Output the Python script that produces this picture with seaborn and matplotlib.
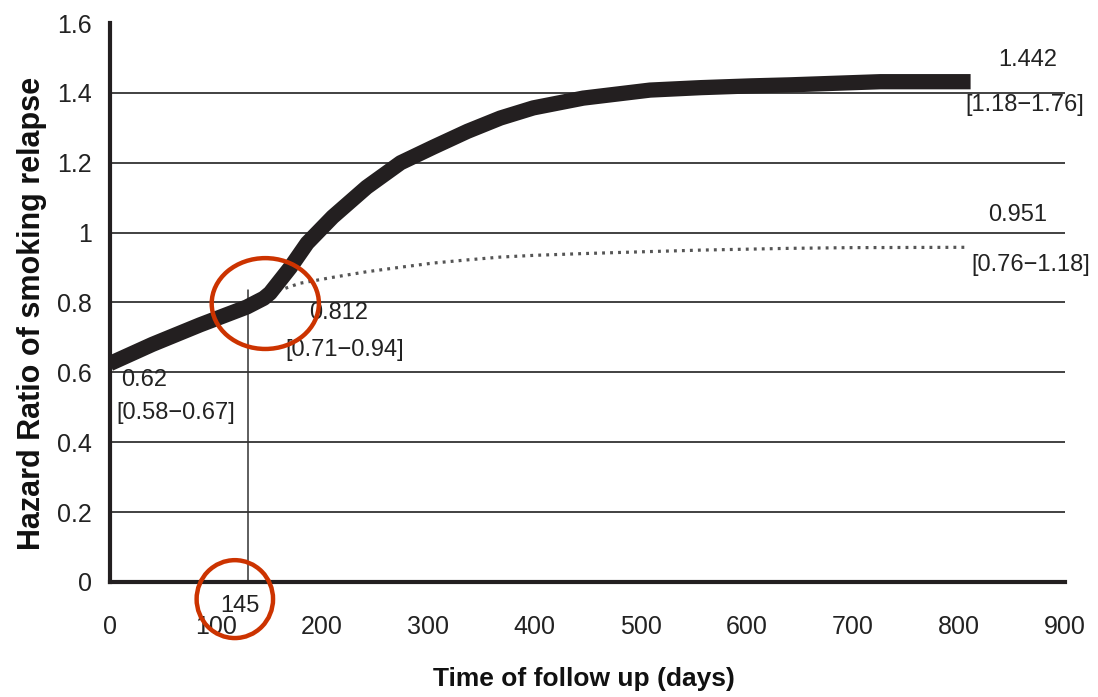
import matplotlib
matplotlib.use("Agg")
import matplotlib.pyplot as plt
from matplotlib.patches import Ellipse
import seaborn as sns
import pandas as pd

# thick curve (intervention vs control)
days_thick = [0, 40, 85, 129, 145, 151, 170, 186, 210, 242, 274, 305, 337, 368,
              399, 446, 509, 557, 604, 641, 726, 811]
hr_thick = [0.625, 0.68, 0.736, 0.787, 0.812, 0.827, 0.90, 0.97, 1.045, 1.13, 1.20,
            1.245, 1.29, 1.328, 1.357, 1.385, 1.408, 1.415, 1.42, 1.423, 1.432, 1.432]

# dotted curve
days_dot = [145, 160, 179, 210, 242, 274, 305, 337, 368, 400, 446, 500, 557,
            640, 698, 807]
hr_dot = [0.812, 0.835, 0.855, 0.872, 0.888, 0.901, 0.913, 0.922, 0.930, 0.935,
          0.940, 0.945, 0.950, 0.955, 0.957, 0.958]

x_ticks = [0, 100, 200, 300, 400, 500, 600, 700, 800, 900]
y_ticks = [0, 0.2, 0.4, 0.6, 0.8, 1.0, 1.2, 1.4, 1.6]
y_tick_labels = ["0", "0.2", "0.4", "0.6", "0.8", "1", "1.2", "1.4", "1.6"]

cut_day = 130
cut_top = 0.835

sns.set_theme(style="white")
plt.rcParams["font.family"] = ["Liberation Sans Narrow", "Liberation Sans", "DejaVu Sans"]

df_thick = pd.DataFrame({"days": days_thick, "hr": hr_thick})
df_dot = pd.DataFrame({"days": days_dot, "hr": hr_dot})

fig = plt.figure(figsize=(10.98, 6.97), dpi=100)
ax = fig.add_axes([0.100, 0.165, 0.870, 0.802])

for yv in y_ticks[1:-1]:
    ax.axhline(yv, color="#333333", lw=1.3, zorder=1)

ax.plot([cut_day, cut_day], [0, cut_top], color="#333333", lw=1.1, zorder=1)

sns.lineplot(data=df_dot, x="days", y="hr", ax=ax, color="#555555", lw=2.3,
             linestyle=(0, (0.9, 1.6)), zorder=2)
sns.lineplot(data=df_thick, x="days", y="hr", ax=ax, color="#231f20", lw=11,
             solid_capstyle="butt", zorder=3)

ax.set_xlim(0, 900)
ax.set_ylim(0, 1.6)
ax.set_xticks(x_ticks)
ax.set_yticks(y_ticks)
ax.set_yticklabels(y_tick_labels)
ax.tick_params(axis="both", direction="out", length=7, width=2.5, color="#231f20",
               labelsize=18, labelcolor="#222222")
ax.tick_params(axis="x", pad=17)
ax.tick_params(axis="y", pad=6)

for side in ["top", "right"]:
    ax.spines[side].set_visible(False)
for side in ["left", "bottom"]:
    ax.spines[side].set_linewidth(3)
    ax.spines[side].set_color("#231f20")

ax.set_xlabel("Time of follow up (days)", fontsize=19, fontweight="bold",
              color="#111111")
ax.set_ylabel("Hazard Ratio of smoking relapse", fontsize=22, fontweight="bold",
              color="#111111")
ax.xaxis.set_label_coords(0.496, -0.152)
ax.yaxis.set_label_coords(-0.066, 0.48)

txt = dict(fontsize=17, color="#222222", clip_on=False)
ax.text(11, 0.578, "0.62", ha="left", va="center", **txt)
ax.text(6, 0.484, "[0.58\u22120.67]", ha="left", va="center", **txt)
ax.text(188, 0.77, "0.812", ha="left", va="center", **txt)
ax.text(165, 0.664, "[0.71\u22120.94]", ha="left", va="center", **txt)
ax.text(893, 1.494, "1.442", ha="right", va="center", **txt)
ax.text(806, 1.365, "[1.18\u22121.76]", ha="left", va="center", **txt)
ax.text(883, 1.05, "0.951", ha="right", va="center", **txt)
ax.text(812, 0.907, "[0.76\u22121.18]", ha="left", va="center", **txt)
ax.text(122.5, -0.069, "145", ha="center", va="center", **txt)

# red highlight circles
ax.add_patch(Ellipse((146.5, 0.797), 101, 0.26, fill=False, edgecolor="#cc3300",
                     lw=3.2, clip_on=False, zorder=5))
ax.add_patch(Ellipse((117.8, -0.049), 72, 0.223, fill=False, edgecolor="#cc3300",
                     lw=3.2, clip_on=False, zorder=5))

fig.savefig("out.png", dpi=100)
